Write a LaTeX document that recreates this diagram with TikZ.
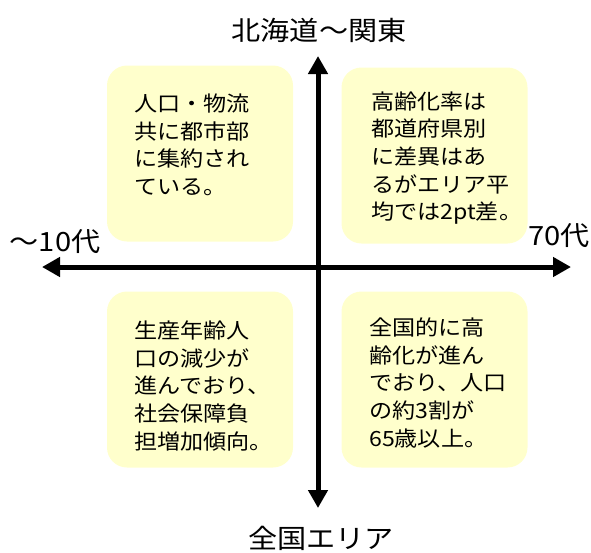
\documentclass[tikz,border=0pt]{standalone}
\usepackage{fontspec}
\usetikzlibrary{arrows.meta}
\newfontfamily\jpfont[FakeStretch=1.1]{Noto Sans CJK JP}
\definecolor{boxfill}{HTML}{FFFFCC}
\tikzset{
  qbox/.style={fill=boxfill, rounded corners=20pt, minimum width=186pt, minimum height=176pt, inner sep=0pt},
  qtext/.style={anchor=west, inner sep=0pt, align=left, font={\jpfont\fontsize{21pt}{27.6pt}\selectfont}},
  axlabel/.style={inner sep=0pt, font={\jpfont\fontsize{26.5pt}{30pt}\selectfont}},
  axis/.style={line width=5pt, {Triangle[width=19pt,length=18pt]}-{Triangle[width=19pt,length=18pt]}}
}
\begin{document}
\begin{tikzpicture}[x=1pt,y=-1pt]
                \useasboundingbox (0,0) rectangle (591,552);
                \node[qbox] (tl) at (200,153.5) {};
                \node[qbox] (tr) at (434.5,155.5) {};
                \node[qbox] (bl) at (200,379.5) {};
                \node[qbox] (br) at (434.5,379.5) {};
                \node[qtext] (tltext) at (134,145) {人口・物流\\共に都市部\\に集約され\\ている。};
                \node[qtext] (trtext) at (371,158) {高齢化率は\\都道府県別\\に差異はあ\\るがエリア平\\均では2pt差。};
                \node[qtext] (bltext) at (134,386) {生産年齢人\\口の減少が\\進んでおり、\\社会保障負\\担増加傾向。};
                \node[qtext] (brtext) at (369,383) {全国的に高\\齢化が進ん\\でおり、人口\\の約3割が\\65歳以上。};
                \coordinate (N) at (318,56);
                \coordinate (S) at (318,508);
                \coordinate (W) at (42,267);
                \coordinate (E) at (571,267);
                \draw[axis] (S) -- (N);
                \draw[axis] (W) -- (E);
                \node[axlabel] (north) at (319,30) {北海道〜関東};
                \node[axlabel] (south) at (321,538) {全国エリア};
                \node[axlabel] (west) at (55,242) {〜10代};
                \node[axlabel] (east) at (559,236) {70代};
            \end{tikzpicture}
\end{document}
